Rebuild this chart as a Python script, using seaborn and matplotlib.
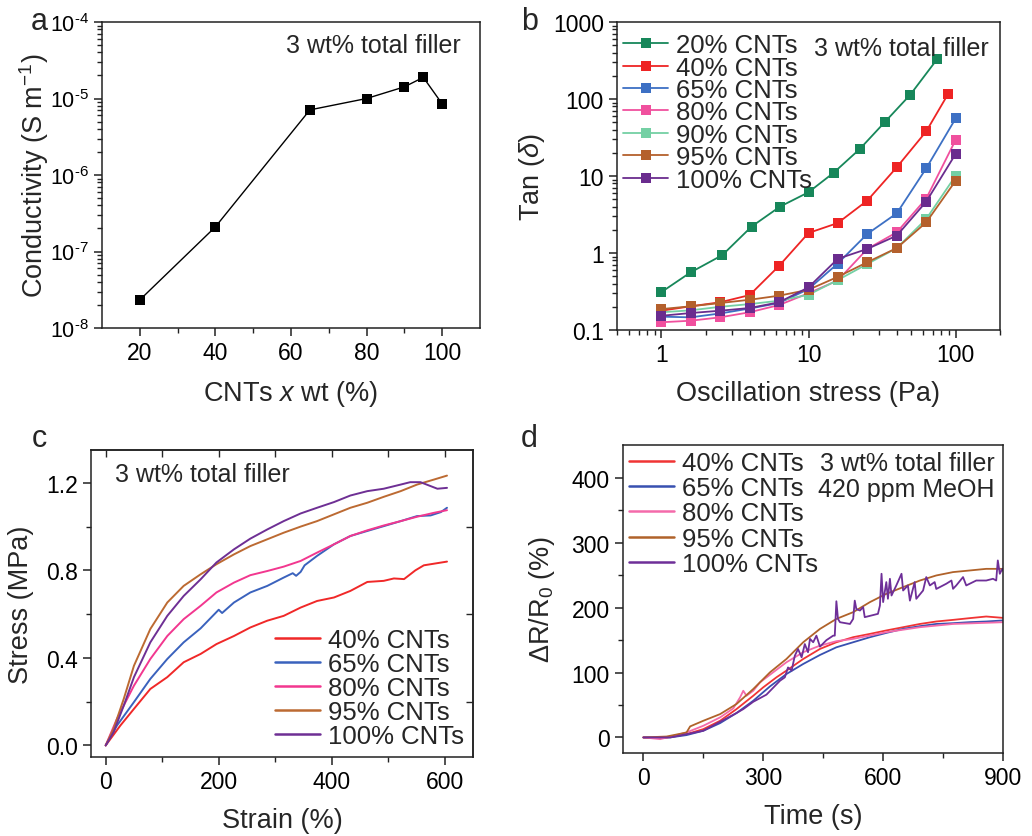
import numpy as np
import pandas as pd
import matplotlib
matplotlib.use('Agg')
import matplotlib.pyplot as plt
import seaborn as sns
from matplotlib.ticker import FixedLocator, LogLocator, NullFormatter, FuncFormatter

# ---------------- data ----------------
# panel a
a_cnt = [20, 40, 65, 80, 90, 95, 100]
a_cond = [2.33e-8, 2.1e-7, 7.1e-6, 1.0e-5, 1.42e-5, 1.89e-5, 8.5e-6]

# panel b
b_labels = ['20% CNTs', '40% CNTs', '65% CNTs', '80% CNTs', '90% CNTs', '95% CNTs', '100% CNTs']
b_x_20 = [1, 1.58, 2.6, 4.1, 6.4, 10, 14.8, 22.3, 33.2, 49.2, 75]
b_x_40 = [1, 1.58, 2.51, 3.98, 6.31, 10, 15.8, 25.1, 39.8, 63.1, 89]
b_x_std = [1, 1.58, 2.51, 3.98, 6.31, 10, 15.8, 25.1, 39.8, 63.1, 100]
tan_20 = [0.31, 0.56, 0.94, 2.2, 4.0, 6.15, 11, 22.4, 50.8, 114, 331]
tan_40 = [0.178, 0.203, 0.229, 0.284, 0.68, 1.82, 2.45, 4.8, 13, 38, 117]
tan_65 = [0.149, 0.146, 0.164, 0.19, 0.224, 0.34, 0.73, 1.77, 3.28, 12.6, 56]
tan_80 = [0.126, 0.132, 0.146, 0.17, 0.211, 0.30, 0.44, 1.13, 1.86, 5.1, 29.5]
tan_90 = [0.17, 0.18, 0.2, 0.217, 0.24, 0.287, 0.445, 0.72, 1.16, 2.77, 10.1]
tan_95 = [0.187, 0.203, 0.224, 0.247, 0.279, 0.333, 0.49, 0.76, 1.16, 2.5, 8.7]
tan_100 = [0.153, 0.166, 0.178, 0.193, 0.229, 0.358, 0.84, 1.13, 1.68, 4.65, 19.4]
b_colors = ['#17875a', '#ee2424', '#3d70c4', '#f0509e', '#74d0a4', '#b4602c', '#6a2c8e']

# panel c (strain %, stress MPa)
c_labels = ['40% CNTs', '65% CNTs', '80% CNTs', '95% CNTs', '100% CNTs']
c_x_40 = [0, 26, 50, 79, 109, 138, 168, 196, 227, 256, 286, 315, 345, 374, 404, 433, 463, 492, 510, 528, 548, 563, 604]
c_y_40 = [0, 0.091, 0.167, 0.258, 0.312, 0.38, 0.418, 0.463, 0.50, 0.539, 0.57, 0.592, 0.63, 0.66, 0.676, 0.706, 0.747, 0.752, 0.763, 0.76, 0.80, 0.823, 0.84]
c_x_65 = [0, 20, 50, 79, 109, 138, 168, 200, 206, 227, 256, 286, 315, 331, 337, 345, 352, 374, 404, 433, 463, 492, 522, 551, 575, 593, 604]
c_y_65 = [0, 0.091, 0.198, 0.304, 0.395, 0.471, 0.535, 0.62, 0.605, 0.653, 0.699, 0.729, 0.767, 0.787, 0.775, 0.793, 0.823, 0.866, 0.919, 0.957, 0.98, 1.002, 1.025, 1.048, 1.051, 1.066, 1.086]
c_x_80 = [0, 20, 50, 79, 109, 138, 168, 196, 227, 256, 286, 315, 345, 374, 404, 433, 463, 492, 522, 551, 581, 604]
c_y_80 = [0, 0.122, 0.273, 0.395, 0.50, 0.577, 0.638, 0.699, 0.744, 0.778, 0.797, 0.817, 0.843, 0.881, 0.919, 0.957, 0.983, 1.005, 1.025, 1.045, 1.063, 1.075]
c_x_95 = [0, 14, 32, 50, 79, 109, 138, 168, 196, 227, 256, 286, 315, 345, 374, 404, 433, 463, 492, 522, 551, 581, 604]
c_y_95 = [0, 0.076, 0.213, 0.364, 0.532, 0.653, 0.729, 0.782, 0.828, 0.873, 0.911, 0.942, 0.972, 1.0, 1.025, 1.056, 1.086, 1.109, 1.136, 1.162, 1.192, 1.215, 1.233]
c_x_100 = [0, 14, 32, 50, 79, 109, 138, 168, 196, 227, 256, 286, 315, 345, 374, 404, 433, 463, 492, 522, 539, 557, 575, 587, 604]
c_y_100 = [0, 0.061, 0.182, 0.312, 0.471, 0.592, 0.683, 0.759, 0.836, 0.896, 0.945, 0.987, 1.025, 1.06, 1.086, 1.112, 1.142, 1.162, 1.173, 1.192, 1.203, 1.203, 1.185, 1.173, 1.177]
c_colors = ['#f02828', '#3a62bd', '#f2378f', '#bc6a32', '#6e2f94']

# panel d (time s, dR/R0 %)
d_labels = ['40% CNTs', '65% CNTs', '80% CNTs', '95% CNTs', '100% CNTs']
d_x_40 = [0, 50, 108, 150, 192, 233, 275, 300, 333, 358, 400, 442, 483, 525, 567, 608, 650, 692, 733, 775, 817, 858, 900]
d_y_40 = [0, -1, 5.1, 12.8, 25.7, 43.7, 64.3, 77.3, 92.7, 103, 121, 136.5, 146.8, 154.6, 159.7, 165, 170, 175, 178.8, 181.3, 184, 186.5, 184.4]
d_x_65 = [0, 67, 108, 150, 192, 233, 275, 317, 358, 400, 442, 483, 525, 567, 608, 650, 692, 733, 775, 817, 858, 900]
d_y_65 = [0, 0, 3.6, 10.3, 22.1, 37.6, 56.6, 78.8, 97.8, 113.3, 127.2, 139, 146.8, 154.6, 161.2, 167.4, 171.6, 175, 176.2, 177.8, 178.8, 180.4]
d_x_80 = [0, 42, 67, 108, 150, 192, 225, 242, 250, 258, 275, 292, 325, 358, 400, 442, 483, 525, 608, 692, 775, 900]
d_y_80 = [0, -2.6, 1, 7.7, 18, 30.9, 44.8, 61.8, 72, 64.3, 72, 85, 100.5, 115.9, 131.4, 141.6, 148.4, 152, 162.3, 170, 175, 177.7]
d_x_95 = [0, 58, 92, 108, 117, 150, 192, 233, 275, 317, 358, 400, 442, 483, 525, 567, 608, 650, 692, 733, 775, 817, 858, 900]
d_y_95 = [0, 1.4, 5.6, 7.7, 17, 25.7, 36, 51.5, 74.7, 100.5, 121, 146.8, 167.4, 182.8, 193.2, 208.7, 221.5, 231.8, 242, 249.8, 255, 257.5, 260, 260]
d_x_100 = [0, 67, 150, 233, 250, 275, 308, 342, 354, 362, 371, 379, 387, 396, 404, 412, 417, 425, 433, 442,
           458, 475, 479, 483, 487, 492, 517, 525, 529, 533, 542, 550, 554, 587, 592, 596, 600, 608, 612, 617,
           621, 633, 646, 650, 662, 667, 679, 683, 700, 708, 717, 729, 733, 758, 771, 775, 783, 800, 808, 833,
           858, 875, 883, 887, 892, 898, 900]
d_y_100 = [0, 0, 10.3, 37.6, 43.7, 55, 66, 87.5, 92.7, 108, 103, 126, 136.5, 123.6, 144, 131.4, 152, 146.8, 157, 140,
           150, 157, 157, 210, 182.8, 177.7, 175, 182.8, 211, 198, 195.7, 201, 185.5, 190.6, 203.4, 252.4, 208.7, 239.6, 213.8, 244.7,
           218.9, 234.4, 252.4, 226.6, 234.4, 211, 239.6, 213.8, 226.6, 247.3, 234.4, 239.6, 229, 237, 242, 229.2, 234.4, 247.3, 234.4, 242,
           242, 244.7, 242, 273, 252.4, 260, 257]
d_colors = ['#f03434', '#3850b0', '#f46aaa', '#b0622a', '#6e2f98']

# ---------------- style ----------------
sns.set_theme(style='ticks')
plt.rcParams['font.family'] = ['Liberation Sans', 'DejaVu Sans']
plt.rcParams['mathtext.fontset'] = 'custom'
plt.rcParams['mathtext.rm'] = 'Liberation Sans'
plt.rcParams['mathtext.it'] = 'Liberation Sans:italic'
plt.rcParams['axes.linewidth'] = 1.1
plt.rcParams['axes.edgecolor'] = '#222222'

TICK = 16.5
LAB = 19.5
ANN = 18
LEG = 18.5

fig = plt.figure(figsize=(10.32, 8.37), dpi=100)
W, H = 1032, 837


def add_ax(l, r, t, b):
    return fig.add_axes([l / W, (H - b) / H, (r - l) / W, (b - t) / H])


def style(ax):
    ax.tick_params(which='major', direction='out', length=6, width=1.1, labelsize=TICK, colors='#222222', labelcolor='black')
    ax.tick_params(which='minor', direction='out', length=3.5, width=1.0, colors='#222222')
    for s in ax.spines.values():
        s.set_visible(True)
        s.set_linewidth(1.1)


def restyle_legend(ax, loc, anchor, spacing, pad=0.15):
    leg = ax.get_legend()
    h = leg.legend_handles
    l = [t.get_text() for t in leg.get_texts()]
    ax.legend(h, l, loc=loc, bbox_to_anchor=anchor, frameon=False, fontsize=LEG,
              handlelength=1.75, handletextpad=0.3, labelspacing=spacing, borderaxespad=pad,
              borderpad=0.1)


def pow_fmt(v, p):
    e = int(round(np.log10(v)))
    s = ('\u2010' + str(-e)) if e < 0 else str(e)
    return '$\\mathdefault{10^{' + s + '}}$'


# ---------------- panel a ----------------
ax = add_ax(102, 480, 23, 329)
df_a = pd.DataFrame({'cnt': a_cnt, 'cond': a_cond})
ax.set_yscale('log')
sns.lineplot(data=df_a, x='cnt', y='cond', ax=ax, color='black', lw=1.0,
             marker='s', markersize=6.5, markeredgewidth=0, markerfacecolor='black')
ax.set_xlim(10, 110)
ax.set_ylim(1e-8, 1e-4)
ax.xaxis.set_major_locator(FixedLocator([20, 40, 60, 80, 100]))
ax.xaxis.set_minor_locator(FixedLocator([30, 50, 70, 90]))
ax.yaxis.set_major_locator(FixedLocator([1e-8, 1e-7, 1e-6, 1e-5, 1e-4]))
ax.yaxis.set_major_formatter(FuncFormatter(pow_fmt))
ax.yaxis.set_minor_locator(LogLocator(base=10, subs=np.arange(2, 10), numticks=20))
ax.yaxis.set_minor_formatter(NullFormatter())
ax.set_xlabel('CNTs $x$ wt (%)', fontsize=LAB, labelpad=10)
ax.set_ylabel('Conductivity (S m$^{-1}$)', fontsize=LAB)
style(ax)
ax.tick_params(axis='y', which='major', labelsize=15.5)
ax.yaxis.set_label_coords(-0.135, 0.5)
ax.text(0.95, 0.925, '3 wt% total filler', transform=ax.transAxes, ha='right', va='center', fontsize=ANN)

# ---------------- panel b ----------------
ax = add_ax(617, 1000, 23, 331)
ax.set_xscale('log')
ax.set_yscale('log')
b_xs = [b_x_20, b_x_40, b_x_std, b_x_std, b_x_std, b_x_std, b_x_std]
b_ys = [tan_20, tan_40, tan_65, tan_80, tan_90, tan_95, tan_100]
for lab, xs, ys, col in zip(b_labels, b_xs, b_ys, b_colors):
    sns.lineplot(x=xs, y=ys, ax=ax, color=col, lw=1.3, marker='s', markersize=6.5,
                 markeredgewidth=0, label=lab, sort=False, estimator=None)
ax.set_xlim(0.5, 200)
ax.set_ylim(0.1, 1000)
ax.xaxis.set_major_locator(FixedLocator([1, 10, 100]))
ax.xaxis.set_major_formatter(FuncFormatter(lambda v, p: f'{v:g}'))
ax.xaxis.set_minor_locator(LogLocator(base=10, subs=np.arange(2, 10), numticks=20))
ax.xaxis.set_minor_formatter(NullFormatter())
ax.yaxis.set_major_locator(FixedLocator([0.1, 1, 10, 100, 1000]))
ax.yaxis.set_major_formatter(FuncFormatter(lambda v, p: f'{v:g}'))
ax.yaxis.set_minor_locator(LogLocator(base=10, subs=np.arange(2, 10), numticks=20))
ax.yaxis.set_minor_formatter(NullFormatter())
ax.set_xlabel('Oscillation stress (Pa)', fontsize=LAB, labelpad=10)
ax.set_ylabel('Tan ($\\delta$)', fontsize=LAB)
style(ax)
ax.yaxis.set_label_coords(-0.183, 0.5)
h, l = ax.get_legend_handles_labels()
ax.legend(h, l, loc='upper left', bbox_to_anchor=(0.0, 0.985), frameon=False, fontsize=LEG,
          handlelength=1.75, handletextpad=0.3, labelspacing=-0.06, borderaxespad=0.15,
          borderpad=0.1)
ax.text(0.97, 0.915, '3 wt% total filler', transform=ax.transAxes, ha='right', va='center', fontsize=ANN)

# ---------------- panel c ----------------
ax = add_ax(91, 473, 451, 758)
c_xs = [c_x_40, c_x_65, c_x_80, c_x_95, c_x_100]
c_ys = [c_y_40, c_y_65, c_y_80, c_y_95, c_y_100]
frames = []
for lab, xs, ys in zip(c_labels, c_xs, c_ys):
    frames.append(pd.DataFrame({'strain': xs, 'stress': ys, 'sample': lab}))
df_c = pd.concat(frames, ignore_index=True)
sns.lineplot(data=df_c, x='strain', y='stress', hue='sample', hue_order=c_labels,
             palette=dict(zip(c_labels, c_colors)), ax=ax, lw=1.4, sort=False, estimator=None)
ax.set_xlim(-26, 650)
ax.set_ylim(-0.053, 1.35)
ax.xaxis.set_major_locator(FixedLocator([0, 200, 400, 600]))
ax.xaxis.set_minor_locator(FixedLocator([100, 300, 500]))
ax.yaxis.set_major_locator(FixedLocator([0.0, 0.4, 0.8, 1.2]))
ax.yaxis.set_major_formatter(FuncFormatter(lambda v, p: f'{v:.1f}'))
ax.yaxis.set_minor_locator(FixedLocator([0.2, 0.6, 1.0]))
ax.set_xlabel('Strain (%)', fontsize=LAB, labelpad=10)
ax.set_ylabel('Stress (MPa)', fontsize=LAB)
style(ax)
ax.yaxis.set_label_coords(-0.148, 0.5)
sx = ax.secondary_xaxis('top')
sx.xaxis.set_major_locator(FixedLocator([0, 100, 200, 300, 400, 500, 600]))
sx.tick_params(direction='in', length=5, width=1.0, labeltop=False)
sy = ax.secondary_yaxis('right')
sy.yaxis.set_major_locator(FixedLocator([0.2, 0.6, 1.0]))
sy.tick_params(direction='in', length=5, width=1.0, labelright=False)
restyle_legend(ax, 'lower right', (1.0, 0.0), 0.0, pad=0.25)
for hd in ax.get_legend().legend_handles:
    hd.set_linewidth(1.8)
ax.text(0.062, 0.921, '3 wt% total filler', transform=ax.transAxes, ha='left', va='center', fontsize=ANN)

# ---------------- panel d ----------------
ax = add_ax(623, 1003, 446, 754)
d_xs = [d_x_40, d_x_65, d_x_80, d_x_95, d_x_100]
d_ys = [d_y_40, d_y_65, d_y_80, d_y_95, d_y_100]
frames = []
for lab, xs, ys in zip(d_labels, d_xs, d_ys):
    frames.append(pd.DataFrame({'time': xs, 'resp': ys, 'sample': lab}))
df_d = pd.concat(frames, ignore_index=True)
sns.lineplot(data=df_d, x='time', y='resp', hue='sample', hue_order=d_labels,
             palette=dict(zip(d_labels, d_colors)), ax=ax, lw=1.3, sort=False, estimator=None)
ax.set_xlim(-51, 900)
ax.set_ylim(-24, 451)
ax.xaxis.set_major_locator(FixedLocator([0, 300, 600, 900]))
ax.xaxis.set_minor_locator(FixedLocator([150, 450, 750]))
ax.yaxis.set_major_locator(FixedLocator([0, 100, 200, 300, 400]))
ax.yaxis.set_minor_locator(FixedLocator([50, 150, 250, 350]))
ax.set_xlabel('Time (s)', fontsize=LAB, labelpad=10)
ax.set_ylabel('$\\Delta$R/R$_0$ (%)', fontsize=LAB)
style(ax)
ax.yaxis.set_label_coords(-0.174, 0.5)
restyle_legend(ax, 'upper left', (0.0, 1.0), 0.04)
for hd in ax.get_legend().legend_handles:
    hd.set_linewidth(1.8)
ax.text(0.978, 0.942, '3 wt% total filler', transform=ax.transAxes, ha='right', va='center', fontsize=ANN)
ax.text(0.978, 0.857, '420 ppm MeOH', transform=ax.transAxes, ha='right', va='center', fontsize=ANN)

# ---------------- panel letters ----------------
fig.text(31 / W, 1 - 30 / H, 'a', fontsize=22, va='baseline', ha='left')
fig.text(521 / W, 1 - 30 / H, 'b', fontsize=22, va='baseline', ha='left')
fig.text(32 / W, 1 - 447 / H, 'c', fontsize=22, va='baseline', ha='left')
fig.text(521 / W, 1 - 447 / H, 'd', fontsize=22, va='baseline', ha='left')

fig.savefig('out.png', dpi=100)
